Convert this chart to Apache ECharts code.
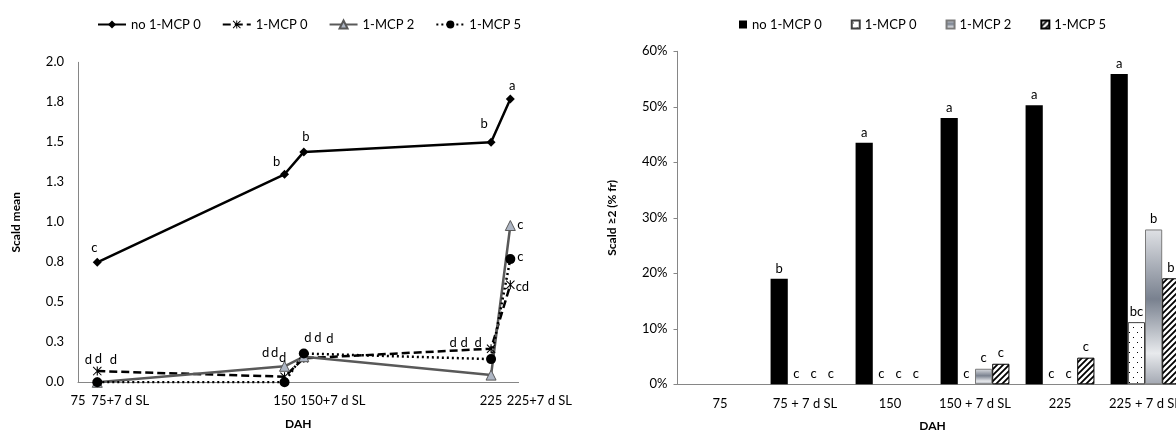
<!DOCTYPE html>
<html><head><meta charset="utf-8">
<script src="https://cdn.jsdelivr.net/npm/echarts@6/dist/echarts.min.js"></script>
<style>html,body{margin:0;padding:0;background:#fff}#c{width:1176px;height:432px}</style>
</head><body><div id="c"></div>
<script>
// ---------- Left panel data (Scald mean) ----------
const seriesNames = ['no 1-MCP 0', '1-MCP 0', '1-MCP 2', '1-MCP 5'];
const dahValues = [82, 150, 157, 225, 232];
const scaldNoMcp0 = [0.75, 1.30, 1.44, 1.50, 1.77];
const scaldMcp0 = [0.07, 0.035, 0.15, 0.21, 0.61];
const scaldMcp2 = [0.0, 0.10, 0.16, 0.045, 0.98];
const scaldMcp5 = [0.0, 0.0, 0.18, 0.145, 0.77];
const lettersNoMcp0 = ['c', 'b', 'b', 'b', 'a'];
const lettersMcp0 = ['d', 'd', 'd', 'd', 'cd'];
const lettersMcp2 = ['d', 'd', 'd', 'd', 'c'];
const lettersMcp5 = ['d', 'd', 'd', 'd', 'c'];
const leftTickValues = [75, 82, 150, 157, 225, 232];
const leftTickLabels = ['75', '75+7 d SL', '150', '150+7 d SL', '225', '225+7 d SL'];

// ---------- Right panel data (Scald >=2, %) ----------
const categories = ['75', '75 + 7 d SL', '150', '150 + 7 d SL', '225', '225 + 7 d SL'];
const pctNoMcp0 = [0, 19.0, 43.5, 48.0, 50.3, 55.9];
const pctMcp0 = [0, 0, 0, 0, 0, 11.2];
const pctMcp2 = [0, 0, 0, 2.8, 0, 27.9];
const pctMcp5 = [0, 0, 0, 3.7, 4.8, 19.1];
const barLettersNoMcp0 = ['', 'b', 'a', 'a', 'a', 'a'];
const barLettersMcp0 = ['', 'c', 'c', 'c', 'c', 'bc'];
const barLettersMcp2 = ['', 'c', 'c', 'c', 'c', 'b'];
const barLettersMcp5 = ['', 'c', 'c', 'c', 'c', 'b'];

// ---------- styles ----------
const FONT = 'Lato, "Liberation Sans", sans-serif';
const AXIS_GRAY = '#868686';
const labelOffsets = [
  [[-3,-14],[-8,-12],[2,-15],[-7,-18],[2,-13]],
  [[1,-12],[-10,-24],[14,-20],[-13,-6],[12,2]],
  [[-9,-22],[-2,-8],[4,-19],[-38,-32],[10,-1]],
  [[16,-22],[-19,-29],[26,-15],[-27,-16],[10,-2]]
];
const asterisk = 'path://M4.4,0 L5.6,0 L5.6,10 L4.4,10 Z M0.8,0 L10,9.2 L9.2,10 L0,0.8 Z M9.2,0 L10,0.8 L0.8,10 L0,9.2 Z';

function makeCanvas(w, h, draw) {
  const c = document.createElement('canvas');
  c.width = w; c.height = h;
  const ctx = c.getContext('2d');
  ctx.fillStyle = '#fff'; ctx.fillRect(0, 0, w, h);
  draw(ctx);
  return c;
}
const dotPattern = makeCanvas(8, 10, ctx => {
  ctx.fillStyle = '#000';
  ctx.fillRect(1, 2, 1, 1);
  ctx.fillRect(5, 7, 1, 1);
});
const hatchPattern = makeCanvas(6, 6, ctx => {
  ctx.strokeStyle = '#000'; ctx.lineWidth = 1.8;
  ctx.beginPath();
  ctx.moveTo(-1, 7); ctx.lineTo(7, -1);
  ctx.moveTo(-4, 4); ctx.lineTo(4, -4);
  ctx.moveTo(2, 10); ctx.lineTo(10, 2);
  ctx.stroke();
});
const metalGradient = {
  type: 'linear', x: 0, y: 0, x2: 0, y2: 1,
  colorStops: [
    { offset: 0, color: '#dfe1e5' },
    { offset: 0.45, color: '#79818f' },
    { offset: 0.8, color: '#e8eaed' },
    { offset: 1, color: '#a3a8b2' }
  ]
};

function lineData(ys, letters, offs) {
  return ys.map((y, i) => ({
    value: [dahValues[i], y],
    label: { show: true, position: 'inside', offset: offs[i], formatter: letters[i], color: '#000' }
  }));
}
function barData(vals) {
  return vals.map(v => v === 0
    ? { value: v, itemStyle: { color: 'rgba(0,0,0,0)', borderWidth: 0 } }
    : v);
}
function barLabel(letters) {
  return { show: true, position: 'top', distance: 4, color: '#000', fontFamily: FONT, fontSize: 13,
    formatter: p => letters[p.dataIndex] };
}

const lineCommon = { type: 'line', xAxisIndex: 0, yAxisIndex: 0, z: 3,
  label: { fontFamily: FONT, fontSize: 13, color: '#000' }, emphasis: { disabled: true } };

const option = {
  animation: false,
  backgroundColor: '#fff',
  textStyle: { fontFamily: FONT },
  grid: [
    { left: 78, top: 62.3, width: 440.6, height: 320, outerBoundsMode: 'none' },
    { left: 677.5, top: 51.3, width: 510, height: 333, outerBoundsMode: 'none' }
  ],
  legend: [
    { data: seriesNames, left: 92, top: 13, itemWidth: 28, itemHeight: 10, itemGap: 21,
      textStyle: { fontSize: 13, color: '#000', fontFamily: FONT } },
    { data: seriesNames.map(n => n + ' '), left: 734, top: 13, itemWidth: 8, itemHeight: 8, itemGap: 29,
      icon: 'rect', formatter: n => n.trim(),
      textStyle: { fontSize: 13, color: '#000', fontFamily: FONT } }
  ],
  xAxis: [
    { type: 'value', gridIndex: 0, min: 75, max: 235,
      name: 'DAH', nameLocation: 'middle', nameGap: 36,
      nameTextStyle: { fontWeight: 'bold', fontSize: 12, color: '#000', fontFamily: FONT },
      axisLine: { show: true, lineStyle: { color: AXIS_GRAY, width: 1 } },
      axisTick: { show: false }, splitLine: { show: false },
      axisLabel: { customValues: leftTickValues, margin: 12, color: '#000', fontSize: 13, fontFamily: FONT,
        formatter: v => {
          const i = leftTickValues.indexOf(v);
          if (i === 1) return '{f|' + leftTickLabels[i] + '}';
          return i % 2 === 1 ? '{s|' + leftTickLabels[i] + '}' : leftTickLabels[i];
        },
        rich: {
          f: { padding: [0, 0, 0, 46], fontSize: 13, fontFamily: FONT, color: '#000' },
          s: { padding: [0, 0, 0, 58], fontSize: 13, fontFamily: FONT, color: '#000' }
        } } },
    { type: 'category', gridIndex: 1, data: categories,
      name: 'DAH', nameLocation: 'middle', nameGap: 36,
      nameTextStyle: { fontWeight: 'bold', fontSize: 12, color: '#000', fontFamily: FONT },
      axisLine: { lineStyle: { color: AXIS_GRAY, width: 1 } },
      axisTick: { show: false },
      axisLabel: { interval: 0, margin: 13, color: '#000', fontSize: 13, fontFamily: FONT } }
  ],
  yAxis: [
    { type: 'value', gridIndex: 0, min: 0, max: 2, interval: 0.25,
      name: 'Scald mean', nameLocation: 'middle', nameGap: 56, nameRotate: 90,
      nameTextStyle: { fontWeight: 'bold', fontSize: 12, color: '#000', fontFamily: FONT },
      axisLine: { show: true, lineStyle: { color: AXIS_GRAY, width: 1 } },
      axisTick: { show: false }, splitLine: { show: false },
      axisLabel: { margin: 14, color: '#000', fontSize: 13, fontFamily: FONT, formatter: v => v.toFixed(1) } },
    { type: 'value', gridIndex: 1, min: 0, max: 60, interval: 10,
      name: 'Scald ≥2 (% fr)', nameLocation: 'middle', nameGap: 59, nameRotate: 90,
      nameTextStyle: { fontWeight: 'bold', fontSize: 12, color: '#000', fontFamily: FONT },
      axisLine: { show: true, lineStyle: { color: AXIS_GRAY, width: 1 } },
      axisTick: { show: true, length: 4, lineStyle: { color: AXIS_GRAY } }, splitLine: { show: false },
      axisLabel: { margin: 10, color: '#000', fontSize: 13, fontFamily: FONT, formatter: '{value}%' } }
  ],
  series: [
    Object.assign({}, lineCommon, { name: seriesNames[0], data: lineData(scaldNoMcp0, lettersNoMcp0, labelOffsets[0]),
      symbol: 'diamond', symbolSize: 9, lineStyle: { color: '#000', width: 2.5 }, itemStyle: { color: '#000' } }),
    Object.assign({}, lineCommon, { name: seriesNames[1], data: lineData(scaldMcp0, lettersMcp0, labelOffsets[1]),
      symbol: asterisk, symbolSize: 9, lineStyle: { color: '#000', width: 2.5, type: [8, 4] }, itemStyle: { color: '#000' } }),
    Object.assign({}, lineCommon, { name: seriesNames[2], data: lineData(scaldMcp2, lettersMcp2, labelOffsets[2]),
      symbol: 'triangle', symbolSize: 10, lineStyle: { color: '#595959', width: 2.5 },
      itemStyle: { color: '#aeb6c4', borderColor: '#595959', borderWidth: 1 } }),
    Object.assign({}, lineCommon, { name: seriesNames[3], data: lineData(scaldMcp5, lettersMcp5, labelOffsets[3]),
      symbol: 'circle', symbolSize: 10, lineStyle: { color: '#000', width: 2.5, type: [2, 3] }, itemStyle: { color: '#000' } }),

    { type: 'bar', name: seriesNames[0] + ' ', xAxisIndex: 1, yAxisIndex: 1, data: barData(pctNoMcp0),
      barGap: '0%', barCategoryGap: '19%', itemStyle: { color: '#000' }, label: barLabel(barLettersNoMcp0) },
    { type: 'bar', name: seriesNames[1] + ' ', xAxisIndex: 1, yAxisIndex: 1, data: barData(pctMcp0),
      itemStyle: { color: { image: dotPattern, repeat: 'repeat' }, borderColor: '#404040', borderWidth: 1 },
      label: barLabel(barLettersMcp0) },
    { type: 'bar', name: seriesNames[2] + ' ', xAxisIndex: 1, yAxisIndex: 1, data: barData(pctMcp2),
      itemStyle: { color: metalGradient, borderColor: '#7a7a7a', borderWidth: 1 },
      label: barLabel(barLettersMcp2) },
    { type: 'bar', name: seriesNames[3] + ' ', xAxisIndex: 1, yAxisIndex: 1, data: barData(pctMcp5),
      itemStyle: { color: { image: hatchPattern, repeat: 'repeat' }, borderColor: '#000', borderWidth: 1 },
      label: barLabel(barLettersMcp5) }
  ]
};
const chart = echarts.init(document.getElementById('c'), null, { renderer: 'canvas' });
chart.setOption(option);
</script></body></html>
